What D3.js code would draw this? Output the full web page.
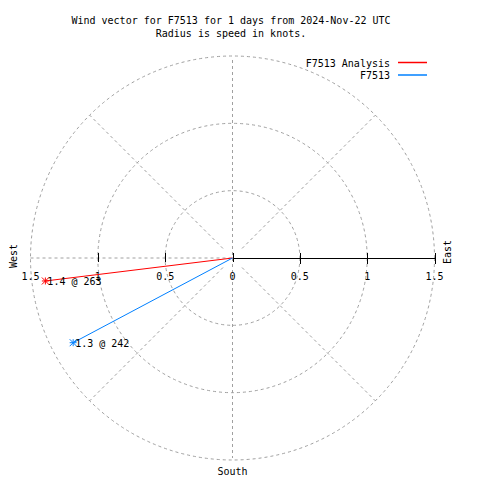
<!DOCTYPE html>
<html><head><meta charset="utf-8">
<script src="https://cdn.jsdelivr.net/npm/d3@7"></script>
<style>
html,body{margin:0;padding:0;background:#fff;}
svg{display:block;}
text{font-family:"DejaVu Sans Mono",monospace;font-size:10px;fill:#000;}
</style></head>
<body>
<svg id="c" width="480" height="480"></svg>
<script>
// ---- data ----
const titleLines = ["Wind vector for F7513 for 1 days from 2024-Nov-22 UTC", "Radius is speed in knots."];
const seriesNames = ["F7513 Analysis", "F7513"];
const seriesColors = ["#ff0000", "#0080ff"];
const speeds = [1.4, 1.34];          // knots
const directions = [263, 242];       // degrees (compass bearing)
const ringValues = [0.5, 1.0, 1.5];
const tickValues = [-1.5, -1, -0.5, 0, 0.5, 1, 1.5];
const tickLabels = ["1.5", "1", "0.5", "0", "0.5", "1", "1.5"];
const spokeAngles = [45, 135, 225, 315];
const compassLabels = ["West", "East", "South"];

// ---- layout ----
const svg = d3.select("#c");
const cx = 232.5, cy = 258, R = 202;
const r = d3.scaleLinear().domain([0, 1.5]).range([0, R]);
const x = d3.scaleLinear().domain([-1.5, 1.5]).range([cx - R, cx + R]);
const grid = "#a0a0a0";
const pt = (s, d) => [cx + r(s) * Math.sin(d * Math.PI / 180), cy - r(s) * Math.cos(d * Math.PI / 180)];

// title
svg.selectAll("text.title").data(titleLines).join("text")
  .attr("x", 231).attr("y", (d, i) => 24 + i * 12.5)
  .attr("text-anchor", "middle").text(d => d);

const g = svg.append("g");
// rings
g.selectAll("circle.ring").data(ringValues).join("circle")
  .attr("cx", cx).attr("cy", cy).attr("r", d => r(d))
  .attr("fill", "none").attr("stroke", grid).attr("stroke-dasharray", "3,3");
// spokes
g.selectAll("line.spoke").data(spokeAngles).join("line")
  .attr("x1", d => pt(0.1, d)[0]).attr("y1", d => pt(0.1, d)[1])
  .attr("x2", d => pt(1.5, d)[0]).attr("y2", d => pt(1.5, d)[1])
  .attr("stroke", grid).attr("stroke-dasharray", "3,3");
// vertical dashed line (N-S)
g.append("line").attr("x1", cx).attr("x2", cx).attr("y1", cy - R + 4).attr("y2", cy + R - 2)
  .attr("stroke", grid).attr("stroke-dasharray", "3,3");
// west dashed line
g.append("line").attr("x1", x(-1.5)).attr("x2", cx).attr("y1", cy).attr("y2", cy)
  .attr("stroke", grid).attr("stroke-dasharray", "3,3");
// east solid axis
g.append("line").attr("x1", cx).attr("x2", x(1.5)).attr("y1", cy).attr("y2", cy)
  .attr("stroke", "#000").attr("shape-rendering", "crispEdges");
// ticks
g.selectAll("line.tick").data(tickValues.filter(v => v !== -1.5)).join("line")
  .attr("x1", d => Math.round(x(d)) + 0.5).attr("x2", d => Math.round(x(d)) + 0.5)
  .attr("y1", cy - 5).attr("y2", d => d > 0 ? cy + 6 : cy + 4)
  .attr("stroke", "#000");
// tick labels
g.selectAll("text.tl").data(tickValues).join("text")
  .attr("x", d => x(d)).attr("y", 280).attr("text-anchor", "middle")
  .text((d, i) => tickLabels[i]);

// compass labels
svg.append("text").attr("transform", `translate(17,${cy - 2}) rotate(-90)`)
  .attr("text-anchor", "middle").text(compassLabels[0]);
svg.append("text").attr("transform", `translate(451,${cy - 6}) rotate(-90)`)
  .attr("text-anchor", "middle").text(compassLabels[1]);
svg.append("text").attr("x", cx).attr("y", 475).attr("text-anchor", "middle").text(compassLabels[2]);

// vectors
const fmt = d3.format(".1f");
const star = ([px, py], s) => {
  const p = d3.path();
  const h = s / 2;
  p.moveTo(px - h, py); p.lineTo(px + h, py);
  p.moveTo(px, py - h); p.lineTo(px, py + h);
  p.moveTo(px - h, py - h); p.lineTo(px + h, py + h);
  p.moveTo(px - h, py + h); p.lineTo(px + h, py - h);
  return p.toString();
};
speeds.forEach((s, i) => {
  const p = pt(s, directions[i]);
  svg.append("line").attr("x1", cx).attr("y1", cy).attr("x2", p[0]).attr("y2", p[1])
    .attr("stroke", seriesColors[i]).attr("stroke-width", 1);
  svg.append("path").attr("d", star(p, 7)).attr("stroke", seriesColors[i]).attr("stroke-width", 1).attr("fill", "none");
  svg.append("text").attr("x", p[0] + 2).attr("y", p[1] + 4).text(`${fmt(s)} @ ${directions[i]}`);
});

// legend
seriesNames.forEach((n, i) => {
  const ly = 62.5 + i * 12.5;
  svg.append("text").attr("x", 390).attr("y", ly + 4).attr("text-anchor", "end").text(n);
  svg.append("line").attr("x1", 398).attr("x2", 427).attr("y1", ly).attr("y2", ly)
    .attr("stroke", seriesColors[i]).attr("stroke-width", 1.5);
});
</script>
</body></html>
